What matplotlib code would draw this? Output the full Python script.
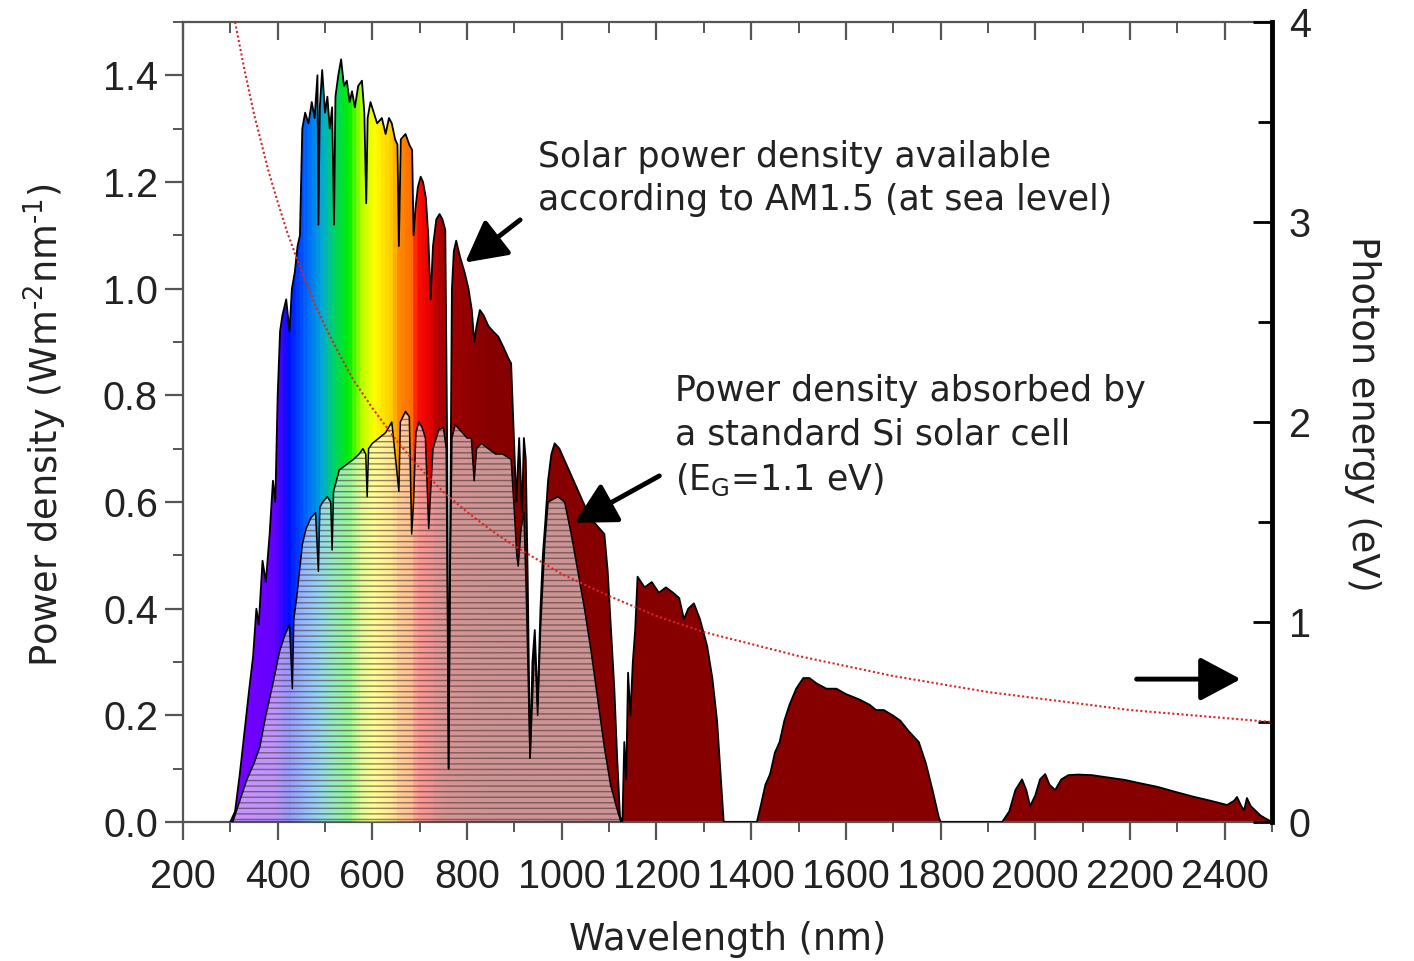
import matplotlib
matplotlib.use("Agg")

import numpy as np
import matplotlib.pyplot as plt
from matplotlib.colors import LinearSegmentedColormap
from matplotlib.patches import Polygon
from matplotlib.ticker import MultipleLocator

# AM1.5 spectrum (nm, W m-2 nm-1)
am_wl = [300, 310, 320, 330, 340, 348, 355, 360, 368, 375, 383, 390, 395, 400, 405, 410,
         418, 425, 430, 436, 442, 447, 452, 458, 465, 472, 478, 484, 486, 489, 494, 500,
         505, 510, 515, 519, 522, 528, 534, 540, 546, 552, 557, 563, 570, 578, 583, 587,
         590, 596, 603, 610, 620, 628, 635, 641, 648, 653, 656, 660, 670, 678, 684, 687,
         691, 696, 702, 707, 713, 718, 723, 728, 735, 742, 748, 754, 758, 761, 764, 768,
         772, 777, 785, 795, 803, 810, 815, 820, 827, 835, 845, 855, 866, 877, 887, 893,
         898, 904, 910, 916, 920, 924, 928, 933, 938, 943, 949, 955, 960, 965, 971, 978,
         985, 995, 1010, 1030, 1050, 1061, 1075, 1090, 1097, 1104, 1111, 1117, 1123, 1128,
         1132, 1136, 1140, 1145, 1150, 1155, 1160, 1175, 1190, 1205, 1220, 1235, 1248, 1258,
         1267, 1279, 1292, 1307, 1318, 1328, 1336, 1342, 1412, 1420, 1430, 1440, 1450, 1460,
         1470, 1481, 1495, 1510, 1523, 1538, 1559, 1580, 1600, 1628, 1650, 1664, 1680, 1699,
         1715, 1733, 1754, 1769, 1783, 1796, 1800, 1930, 1945, 1958, 1972, 1981, 1989, 2000,
         2010, 2021, 2030, 2042, 2055, 2070, 2090, 2119, 2150, 2189, 2220, 2258, 2290, 2336,
         2370, 2405, 2420, 2426, 2435, 2441, 2447, 2455, 2476, 2500]
am_pd = [0.00, 0.02, 0.09, 0.17, 0.25, 0.31, 0.40, 0.37, 0.49, 0.45, 0.54, 0.64, 0.60, 0.80, 0.92, 0.95,
         0.98, 0.92, 1.00, 1.03, 1.08, 1.10, 1.30, 1.33, 1.31, 1.35, 1.32, 1.40, 1.12, 1.34, 1.41, 1.33,
         1.36, 1.30, 1.34, 1.12, 1.36, 1.40, 1.43, 1.38, 1.39, 1.35, 1.37, 1.34, 1.38, 1.39, 1.33, 1.16,
         1.32, 1.35, 1.33, 1.31, 1.32, 1.29, 1.32, 1.31, 1.28, 1.27, 1.08, 1.28, 1.29, 1.27, 1.26, 1.10,
         1.15, 1.19, 1.21, 1.20, 1.17, 1.10, 0.98, 1.08, 1.13, 1.14, 1.13, 1.11, 0.70, 0.10, 0.50, 1.00,
         1.07, 1.09, 1.06, 1.03, 1.00, 0.96, 0.90, 0.93, 0.96, 0.95, 0.93, 0.92, 0.91, 0.89, 0.87, 0.86,
         0.74, 0.60, 0.72, 0.58, 0.72, 0.68, 0.46, 0.12, 0.30, 0.36, 0.22, 0.40, 0.50, 0.56, 0.64, 0.69,
         0.71, 0.70, 0.67, 0.63, 0.59, 0.57, 0.555, 0.54, 0.47, 0.36, 0.25, 0.12, 0.01, 0.00,
         0.15, 0.08, 0.28, 0.20, 0.30, 0.36, 0.46, 0.44, 0.45, 0.43, 0.44, 0.43, 0.42, 0.38,
         0.40, 0.41, 0.38, 0.33, 0.27, 0.19, 0.08, 0.00, 0.00, 0.03, 0.07, 0.09, 0.13, 0.15,
         0.19, 0.22, 0.25, 0.27, 0.27, 0.26, 0.25, 0.25, 0.24, 0.23, 0.22, 0.21, 0.21, 0.20,
         0.19, 0.17, 0.15, 0.11, 0.06, 0.01, 0.00, 0.00, 0.02, 0.06, 0.08, 0.06, 0.03, 0.05,
         0.08, 0.09, 0.07, 0.06, 0.08, 0.088, 0.089, 0.088, 0.084, 0.079, 0.073, 0.066, 0.058, 0.047,
         0.040, 0.032, 0.040, 0.047, 0.030, 0.022, 0.045, 0.030, 0.012, 0.00]

# part absorbed by a Si cell (Eg = 1.1 eV)
si_wl = [300, 305, 320, 335, 350, 362, 375, 390, 404, 415, 425, 431, 434, 440, 452, 460,
         470, 480, 486, 489, 495, 505, 512, 515, 518, 530, 545, 560, 572, 580, 586, 589,
         592, 600, 614, 628, 641, 656, 659, 670, 678, 683, 687, 692, 698, 705, 712, 719,
         723, 728, 740, 750, 756, 761, 764, 768, 775, 790, 800, 809, 815, 820, 830, 845,
         860, 875, 893, 900, 905, 908, 914, 920, 925, 933, 943, 949, 955, 964, 971, 992,
         1006, 1020, 1034, 1048, 1062, 1076, 1090, 1103, 1115, 1125]
si_pd = [0.00, 0.00, 0.04, 0.08, 0.11, 0.14, 0.20, 0.26, 0.32, 0.35, 0.37, 0.25, 0.38, 0.42, 0.52, 0.55,
         0.57, 0.58, 0.47, 0.59, 0.60, 0.61, 0.60, 0.51, 0.62, 0.66, 0.67, 0.68, 0.69, 0.70, 0.69, 0.61,
         0.70, 0.71, 0.72, 0.73, 0.75, 0.62, 0.75, 0.77, 0.76, 0.54, 0.60, 0.73, 0.75, 0.74, 0.72, 0.55,
         0.62, 0.70, 0.735, 0.74, 0.70, 0.10, 0.45, 0.72, 0.745, 0.73, 0.72, 0.72, 0.64, 0.70, 0.71, 0.70,
         0.69, 0.69, 0.68, 0.58, 0.50, 0.48, 0.55, 0.58, 0.43, 0.12, 0.34, 0.20, 0.36, 0.52, 0.60, 0.61,
         0.60, 0.54, 0.47, 0.40, 0.32, 0.23, 0.14, 0.07, 0.03, 0.00]

# photon energy (right axis, eV)
ev_wl = [310, 320, 330, 340, 350, 365, 380, 400, 420, 440, 460, 480, 500, 530, 560, 600,
         650, 700, 750, 800, 850, 900, 950, 1000, 1100, 1200, 1300, 1400, 1500, 1600, 1700,
         1800, 1900, 2000, 2100, 2200, 2300, 2400, 2500]
ev_e = [4.00, 3.88, 3.76, 3.65, 3.54, 3.40, 3.26, 3.10, 2.95, 2.82, 2.70, 2.58, 2.48, 2.34, 2.21, 2.07,
        1.91, 1.77, 1.65, 1.55, 1.46, 1.38, 1.31, 1.24, 1.13, 1.03, 0.95, 0.89, 0.83, 0.78, 0.73,
        0.69, 0.65, 0.62, 0.59, 0.56, 0.54, 0.52, 0.50]

# colour of the spectrum fill along wavelength
spec_nm = [300, 390, 420, 455, 490, 515, 548, 575, 600, 640, 652, 684, 690, 722, 735, 780, 850, 2500]
spec_col = ['#7a00ff', '#6400ff', '#0010ff', '#0060ff', '#00a8d8', '#00d070', '#00f000', '#b8ff00',
            '#ffff00', '#ffc800', '#ff8c00', '#ff6a00', '#ff1000', '#e00000', '#b00000', '#980000',
            '#860000', '#860000']

plt.rcParams['font.family'] = 'Liberation Sans'
plt.rcParams['hatch.linewidth'] = 1.0
txt_font = 'DejaVu Sans'
ink = '#222222'
axis_grey = '#555555'

fig = plt.figure(figsize=(14.14, 9.61), dpi=100)
ax = fig.add_axes([0.1294, 0.1446, 0.7702, 0.8325])

cmap = LinearSegmentedColormap.from_list(
    'spec', list(zip([(w - 300) / 2200 for w in spec_nm], spec_col)))
grad = np.arange(300, 2501).reshape(1, -1)

# full AM1.5 spectrum, rainbow coloured
am_patch = Polygon(list(zip(am_wl, am_pd)), closed=True, fc='none', ec='none')
ax.add_patch(am_patch)
im = ax.imshow(grad, extent=[300, 2500, 0, 1.5], aspect='auto', cmap=cmap,
               vmin=300, vmax=2500, origin='lower', zorder=1)
im.set_clip_path(am_patch)

# absorbed part: pale colours with horizontal hatching
si_white = Polygon(list(zip(si_wl, si_pd)), closed=True, fc='white', ec='none', zorder=2)
ax.add_patch(si_white)
im2 = ax.imshow(grad, extent=[300, 2500, 0, 1.5], aspect='auto', cmap=cmap,
                vmin=300, vmax=2500, origin='lower', zorder=3, alpha=0.42)
im2.set_clip_path(si_white)
ax.add_patch(Polygon(list(zip(si_wl, si_pd)), closed=True, fc='none',
                     ec=(0.3, 0.2, 0.2, 0.6), lw=0, hatch='---', zorder=4))

ax.plot(am_wl, am_pd, color='black', lw=1.3, zorder=5)
ax.plot(si_wl, si_pd, color='black', lw=1.1, zorder=5)

ax.set_xlim(200, 2500)
ax.set_ylim(0, 1.5)
ax.xaxis.set_major_locator(MultipleLocator(200))
ax.xaxis.set_minor_locator(MultipleLocator(100))
ax.yaxis.set_major_locator(MultipleLocator(0.2))
ax.yaxis.set_minor_locator(MultipleLocator(0.1))
ax.yaxis.set_major_formatter(plt.FuncFormatter(lambda v, p: f"{v:.1f}"))
ax.tick_params(which='major', direction='out', length=13, width=1.6, color=axis_grey,
               labelsize=28.5, labelcolor=ink)
ax.tick_params(axis='x', which='major', pad=13)
ax.tick_params(axis='y', which='major', pad=5)
ax.tick_params(which='minor', direction='out', length=7, width=1.4, color=axis_grey)
for s in ['left', 'bottom']:
    ax.spines[s].set_color(axis_grey)
    ax.spines[s].set_linewidth(1.6)
ax.spines['top'].set_visible(False)
ax.spines['right'].set_visible(False)

# top ticks point inwards
top = ax.secondary_xaxis('top')
top.xaxis.set_major_locator(MultipleLocator(200))
top.xaxis.set_minor_locator(MultipleLocator(100))
top.tick_params(which='major', direction='in', length=13, width=1.6, color=axis_grey,
                labeltop=False)
top.tick_params(which='minor', direction='in', length=8, width=1.4, color=axis_grey)
top.spines['top'].set_color(axis_grey)
top.spines['top'].set_linewidth(1.6)

ax.set_xlabel('Wavelength (nm)', fontsize=26.5, family=txt_font, color=ink)
ax.xaxis.set_label_coords(0.5, -0.124)
ax.set_ylabel('Power density (Wm$^{\\text{-}2}$nm$^{\\text{-}1}$)', fontsize=26.5,
              family=txt_font, color=ink)
ax.yaxis.set_label_coords(-0.105, 0.496)

# photon energy on the right axis
ax2 = ax.twinx()
ax2.plot(ev_wl, ev_e, color='#dd2222', lw=1.5, ls=(0, (1, 1.2)), zorder=6)
ax2.set_ylim(0, 4)
ax2.yaxis.set_major_locator(MultipleLocator(1))
ax2.yaxis.set_minor_locator(MultipleLocator(0.5))
ax2.tick_params(axis='y', which='major', direction='in', length=14, width=2, color='black',
                labelsize=28.5, labelcolor=ink, pad=12)
ax2.tick_params(axis='y', which='minor', direction='in', length=10, width=2, color='black')
for s in ['left', 'top', 'bottom']:
    ax2.spines[s].set_visible(False)
ax2.spines['right'].set_linewidth(3.5)
ax2.spines['right'].set_color('black')
ax2.set_ylabel('Photon energy (eV)', rotation=270, va='bottom', fontsize=26.5,
               family=txt_font, color=ink)
ax2.yaxis.set_label_coords(1.066, 0.51)

# annotations
ax.text(950, 1.206, 'Solar power density available\naccording to AM1.5 (at sea level)',
        ha='left', va='center', fontsize=25, family=txt_font, color=ink, linespacing=1.32,
        zorder=8)
ax.text(1240, 0.724, 'Power density absorbed by\na standard Si solar cell\n(E$_\\mathrm{G}$=1.1 eV)',
        ha='left', va='center', fontsize=25, family=txt_font, color=ink, linespacing=1.36,
        zorder=8)

arrow = dict(arrowstyle='-|>,head_length=0.6,head_width=0.32', color='black', lw=3.5,
             mutation_scale=42, shrinkA=0, shrinkB=0)
ax.annotate('', xy=(796, 1.049), xytext=(912, 1.129), arrowprops=arrow, zorder=8)
ax.annotate('', xy=(1027, 0.561), xytext=(1206, 0.649), arrowprops=arrow, zorder=8)
ax.annotate('', xy=(2434, 0.268), xytext=(2214, 0.268), arrowprops=arrow, zorder=8)

fig.savefig('out.png', dpi=100)
